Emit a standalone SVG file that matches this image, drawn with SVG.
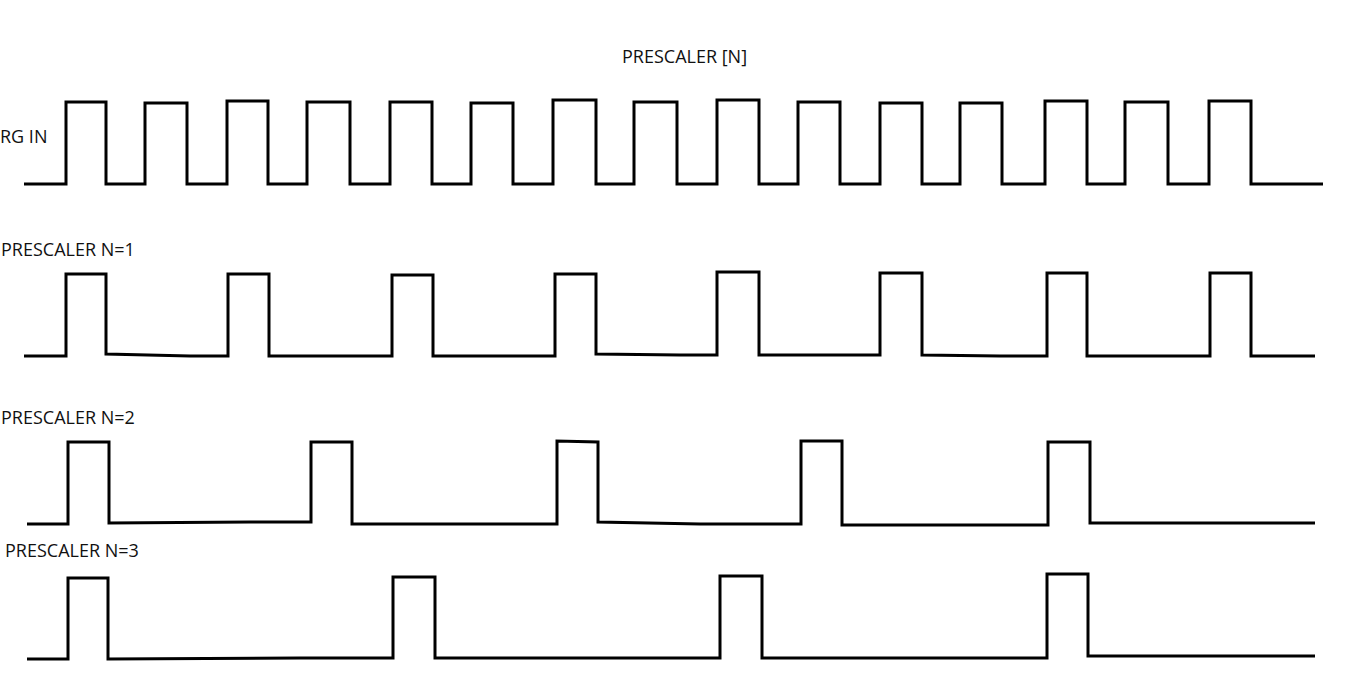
<svg xmlns="http://www.w3.org/2000/svg" width="1350" height="675" viewBox="0 0 1350 675">
<style>
.w{fill:none;stroke:#000;stroke-width:3;stroke-linejoin:miter}
.t{font-family:"Open Sans","Noto Sans",sans-serif;font-size:18px;fill:#111}
</style>
<rect width="1350" height="675" fill="#fff"/>
<g id="title"><text class="t" x="622" y="63">PRESCALER [N]</text></g>
<g id="labels">
<text class="t" x="0" y="143">RG IN</text>
<text class="t" x="1" y="256">PRESCALER N=1</text>
<text class="t" x="1" y="424">PRESCALER N=2</text>
<text class="t" x="5" y="557">PRESCALER N=3</text>
</g>
<g id="connectors">
<path id="trg" class="w" d="M24 184 H66 V102 H106 V184 H145 V103 H187 V184 H227 V101 H268 V184 H307 V102 H350 V184 H390 V102 H432 V184 H471 V103 H513 V184 H553 V100 H596 V184 H634 V102 H677 V184 H717 V100 H759 V184 H798 V102 H840 V184 H880 V103 H922 V184 H960 V103 H1002 V184 H1045 V101 H1087 V184 H1125 V102 H1168 V184 H1209 V101 H1251 V184 H1323"/>
<path id="n1" class="w" d="M24 356 H66 V274 H106 V354 L190 356 H228 V274 H269 V356 H392 V275 H433 V356 H555 V274 H596 V354 L680 355 H717 V272 H759 V355 H880 V273 H922 V355 L1000 356 H1047 V273 H1087 V356 H1210 V273 H1251 V356 H1315"/>
<path id="n2" class="w" d="M27 524 H68 V442 H109 V523 L250 522 H311 V442 H352 V524 H557 V441 L598 442 V522 L700 524 H801 V441 H842 V525 H1048 V442 H1090 V523 H1315"/>
<path id="n3" class="w" d="M27 659 H68 V578 H108 V659 L300 658 H393 V577 H435 V658 L600 658 H720 V576 H762 V658 H1047 V574 H1088 V656 H1315"/>
</g>
</svg>
